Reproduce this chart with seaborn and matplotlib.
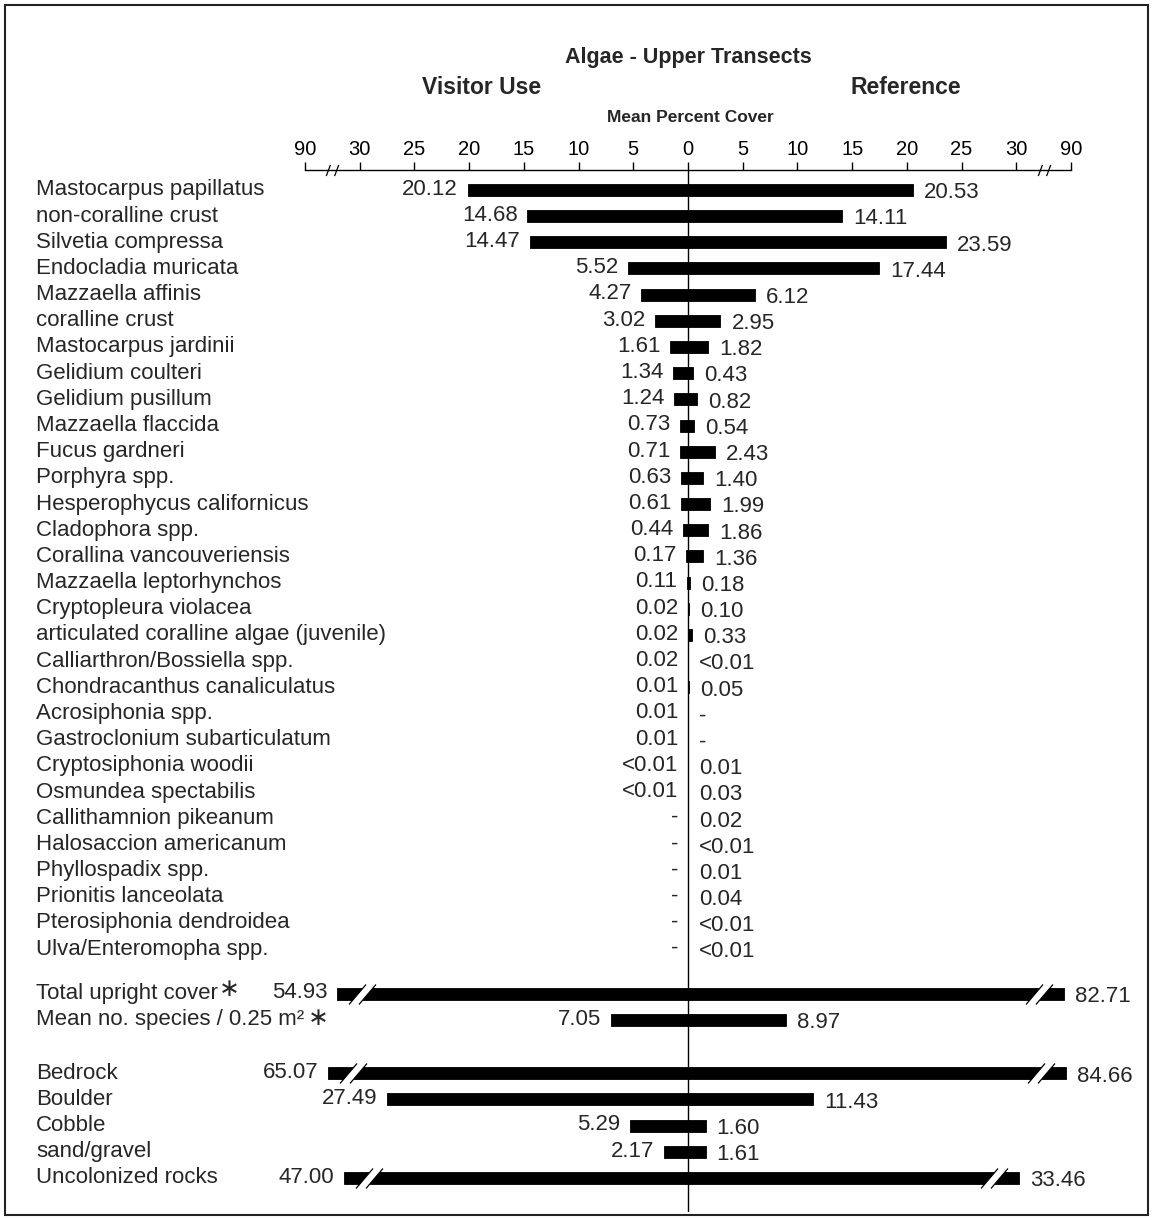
import numpy as np
import pandas as pd
import matplotlib
matplotlib.use('Agg')
import matplotlib.pyplot as plt
import matplotlib.transforms as mtrans
from matplotlib.path import Path
from matplotlib.patches import Rectangle
import seaborn as sns

# species cover, visitor use vs reference (None = "-", 0.004 = "<0.01")
species = ['Mastocarpus papillatus', 'non-coralline crust', 'Silvetia compressa',
           'Endocladia muricata', 'Mazzaella affinis', 'coralline crust',
           'Mastocarpus jardinii', 'Gelidium coulteri', 'Gelidium pusillum',
           'Mazzaella flaccida', 'Fucus gardneri', 'Porphyra spp.',
           'Hesperophycus californicus', 'Cladophora spp.', 'Corallina vancouveriensis',
           'Mazzaella leptorhynchos', 'Cryptopleura violacea',
           'articulated coralline algae (juvenile)', 'Calliarthron/Bossiella spp.',
           'Chondracanthus canaliculatus', 'Acrosiphonia spp.',
           'Gastroclonium subarticulatum', 'Cryptosiphonia woodii',
           'Osmundea spectabilis', 'Callithamnion pikeanum', 'Halosaccion americanum',
           'Phyllospadix spp.', 'Prionitis lanceolata', 'Pterosiphonia dendroidea',
           'Ulva/Enteromopha spp.']
visitor = [20.12, 14.68, 14.47, 5.52, 4.27, 3.02, 1.61, 1.34, 1.24, 0.73, 0.71, 0.63,
           0.61, 0.44, 0.17, 0.11, 0.02, 0.02, 0.02, 0.01, 0.01, 0.01, 0.004, 0.004,
           None, None, None, None, None, None]
reference = [20.53, 14.11, 23.59, 17.44, 6.12, 2.95, 1.82, 0.43, 0.82, 0.54, 2.43, 1.40,
             1.99, 1.86, 1.36, 0.18, 0.10, 0.33, 0.004, 0.05, None, None, 0.01, 0.03,
             0.02, 0.004, 0.01, 0.04, 0.004, 0.004]

totals = ['Total upright cover', 'Mean no. species / 0.25 m\u00b2']
totals_visitor = [54.93, 7.05]
totals_reference = [82.71, 8.97]

substrate = ['Bedrock', 'Boulder', 'Cobble', 'sand/gravel', 'Uncolonized rocks']
substrate_visitor = [65.07, 27.49, 5.29, 2.17, 47.00]
substrate_reference = [84.66, 11.43, 1.60, 1.61, 33.46]

ticks = [-90, -30, -25, -20, -15, -10, -5, 0, 5, 10, 15, 20, 25, 30, 90]

# row positions: species, then totals and substrate groups after a gap
pos_species = np.arange(len(species), dtype=float)
pos_totals = pos_species[-1] + 1.7 + np.arange(len(totals))
pos_substrate = pos_totals[-1] + 2.04 + np.arange(len(substrate))

df = pd.DataFrame({
    'label': species + totals + substrate,
    'pos': np.concatenate([pos_species, pos_totals, pos_substrate]),
    'visitor': visitor + totals_visitor + substrate_visitor,
    'reference': reference + totals_reference + substrate_reference,
})
df['visitor'] = pd.to_numeric(df['visitor'])
df['reference'] = pd.to_numeric(df['reference'])
df['left'] = -df['visitor'].fillna(0)
df['right'] = df['reference'].fillna(0)


def fmt(v):
    if pd.isna(v):
        return '-'
    if v < 0.01:
        return '<0.01'
    return f'{v:.2f}'


# broken axis: linear to 30, then 30..90 squeezed into 5 units
def fwd(x):
    x = np.asarray(x, dtype=float)
    a = np.abs(x)
    return np.where(a <= 30, x, np.sign(x) * (30 + (a - 30) / 12))


def inv(y):
    y = np.asarray(y, dtype=float)
    a = np.abs(y)
    return np.where(a <= 30, y, np.sign(y) * (30 + (a - 30) * 12))


sns.set_theme(style='white')
plt.rcParams['font.family'] = ['Liberation Sans', 'DejaVu Sans']

W, H = 1153, 1220
fig = plt.figure(figsize=(W / 100, H / 100), dpi=100)
ax = fig.add_axes([305 / W, 1 - 1212 / H, 766 / W, (1212 - 170) / H])

sns.barplot(data=df, x='left', y='pos', orient='h', native_scale=True, color='black',
            saturation=1, width=0.46, errorbar=None, linewidth=0.6, edgecolor='black', ax=ax)
sns.barplot(data=df, x='right', y='pos', orient='h', native_scale=True, color='black',
            saturation=1, width=0.46, errorbar=None, linewidth=0.6, edgecolor='black', ax=ax)

ax.set_xscale('function', functions=(fwd, inv))
ax.set_xlim(-90, 90)
ax.set_ylim(pos_substrate[-1] + 1.3, -0.76)
ax.axvline(0, color='black', lw=1)

ax.xaxis.tick_top()
ax.set_xticks(ticks)
ax.set_xticklabels([str(abs(t)) for t in ticks])
ax.tick_params(axis='x', direction='out', length=6, width=1, pad=2, labelsize=14.5,
               colors='black', top=True, bottom=False)
ax.set_yticks([])
ax.set_xlabel('')
ax.set_ylabel('')
for side in ['left', 'right', 'bottom']:
    ax.spines[side].set_visible(False)
ax.spines['top'].set_color('black')
ax.spines['top'].set_linewidth(1)

# "//" break markers
slash = Path([(-13.5, -10), (3.5, 10), (-3.5, -10), (13.5, 10)],
             [Path.MOVETO, Path.LINETO, Path.MOVETO, Path.LINETO])
gap = Path([(-13.5, -10), (3.5, 10), (13.5, 10), (-3.5, -10), (-13.5, -10)],
           [Path.MOVETO, Path.LINETO, Path.LINETO, Path.LINETO, Path.CLOSEPOLY])
axis_slash = Path([(-9, -8), (-3, 8), (3, -8), (9, 8)],
                  [Path.MOVETO, Path.LINETO, Path.MOVETO, Path.LINETO])
ax.plot([-60, 60], [1, 1], transform=ax.get_xaxis_transform(), ls='none',
        marker=axis_slash, markersize=9, markeredgecolor='black', markeredgewidth=0.9,
        clip_on=False)

fs = 16
ylab = mtrans.blended_transform_factory(fig.transFigure, ax.transData)
label_texts = {}
for _, r in df.iterrows():
    label_texts[r['label']] = ax.text(36 / W, r['pos'], r['label'], transform=ylab,
                                      ha='left', va='center', fontsize=fs)
    ax.annotate(fmt(r['visitor']), xy=(r['left'], r['pos']), xytext=(-7, 0.5),
                textcoords='offset points', ha='right', va='center', fontsize=fs)
    ax.annotate(fmt(r['reference']), xy=(r['right'], r['pos']), xytext=(8, -2),
                textcoords='offset points', ha='left', va='center', fontsize=fs)
    for val, sgn in [(r['left'], 1), (r['right'], -1)]:
        if abs(val) > 30:
            tr = mtrans.offset_copy(ax.transData, fig=fig, x=sgn * 18, y=0, units='points')
            ax.plot([val], [r['pos']], transform=tr, ls='none', marker=gap, markersize=19.4,
                    markerfacecolor='white', markeredgecolor='white', markeredgewidth=0,
                    clip_on=False)
            ax.plot([val], [r['pos']], transform=tr, ls='none', marker=slash, markersize=19.4,
                    markeredgecolor='black', markeredgewidth=0.9, clip_on=False)

# asterisks on the summary rows
ax.annotate('\u2217', xy=(1, 1), xycoords=label_texts[totals[0]], xytext=(1, -4),
            textcoords='offset points', ha='left', va='center', fontsize=18,
            family=['DejaVu Sans'])
ax.annotate('\u2217', xy=(1, 0.5), xycoords=label_texts[totals[1]], xytext=(3, 1),
            textcoords='offset points', ha='left', va='center', fontsize=18,
            family=['DejaVu Sans'])

fig.text(688 / W, 1 - 57 / H, 'Algae - Upper Transects', ha='center', va='center',
         fontsize=15.5, fontweight='bold')
fig.text(482 / W, 1 - 88 / H, 'Visitor Use', ha='center', va='center',
         fontsize=16.5, fontweight='bold')
fig.text(906 / W, 1 - 88 / H, 'Reference', ha='center', va='center',
         fontsize=16.5, fontweight='bold')
fig.text(690 / W, 1 - 117 / H, 'Mean Percent Cover', ha='center', va='center',
         fontsize=12.5, fontweight='bold')

fig.patches.append(Rectangle((5 / W, 5 / H), 1143 / W, 1210 / H, transform=fig.transFigure,
                             fill=False, edgecolor='#222222', linewidth=1.5))

fig.savefig('out.png', dpi=100)
